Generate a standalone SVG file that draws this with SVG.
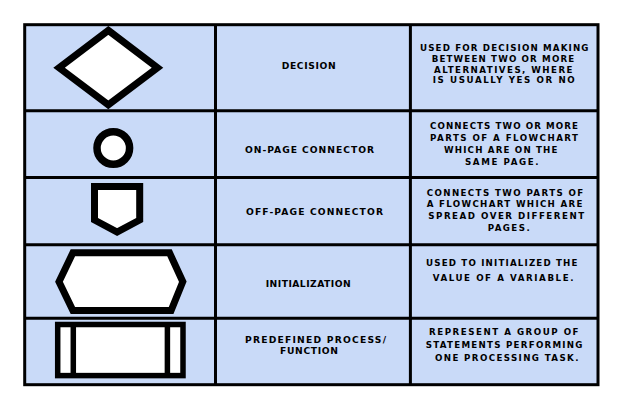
<svg xmlns="http://www.w3.org/2000/svg" width="622" height="410" viewBox="0 0 622 410">
<style>
.cell{fill:#C9DAF8;}
.grid{stroke:#000;stroke-width:3;fill:none;}
.shape{fill:#fff;stroke:#000;stroke-linejoin:miter;}
.name{font-family:"DejaVu Sans","Liberation Sans",sans-serif;font-weight:bold;font-size:9.2px;fill:#000;}
.desc{font-family:"DejaVu Sans","Liberation Sans",sans-serif;font-weight:bold;font-size:8.7px;fill:#000;}
</style>
<rect x="0" y="0" width="622" height="410" fill="#fff"/>
<rect class="cell" x="24.7" y="24.7" width="573.3" height="360"/>
<g id="row-decision">
<path class="shape" stroke-width="7" d="M108.3,30.4 L157.5,67.7 L108.3,104.9 L59.1,67.7 Z"/>
<text class="name" x="281.7" y="69.3" textLength="54" lengthAdjust="spacing">DECISION</text>
<text class="desc" x="420" y="50.5" textLength="168.5" lengthAdjust="spacing">USED FOR DECISION MAKING</text>
<text class="desc" x="431.7" y="61.5" textLength="142.5" lengthAdjust="spacing">BETWEEN TWO OR MORE</text>
<text class="desc" x="434" y="72.5" textLength="138.5" lengthAdjust="spacing">ALTERNATIVES, WHERE</text>
<text class="desc" x="432.7" y="82.8" textLength="142" lengthAdjust="spacing">IS USUALLY YES OR NO</text>
</g>
<g id="row-on-page-connector">
<circle class="shape" stroke-width="7.5" cx="113.3" cy="148" r="16.3"/>
<text class="name" x="245" y="153.3" textLength="129" lengthAdjust="spacing">ON-PAGE CONNECTOR</text>
<text class="desc" x="430" y="128.7" textLength="148" lengthAdjust="spacing">CONNECTS TWO OR MORE</text>
<text class="desc" x="430" y="140.7" textLength="148" lengthAdjust="spacing">PARTS OF A FLOWCHART</text>
<text class="desc" x="444" y="152.7" textLength="113.5" lengthAdjust="spacing">WHICH ARE ON THE</text>
<text class="desc" x="465" y="164.7" textLength="73.5" lengthAdjust="spacing">SAME PAGE.</text>
</g>
<g id="row-off-page-connector">
<path class="shape" stroke-width="7" d="M94.5,186.5 H139.7 V220 L117.1,232 L94.5,220 Z"/>
<text class="name" x="246" y="215" textLength="137" lengthAdjust="spacing">OFF-PAGE CONNECTOR</text>
<text class="desc" x="426.7" y="195.7" textLength="156.5" lengthAdjust="spacing">CONNECTS TWO PARTS OF</text>
<text class="desc" x="426.7" y="207.3" textLength="155.8" lengthAdjust="spacing">A FLOWCHART WHICH ARE</text>
<text class="desc" x="428.3" y="219" textLength="155.8" lengthAdjust="spacing">SPREAD OVER DIFFERENT</text>
<text class="desc" x="487.7" y="230.5" textLength="42" lengthAdjust="spacing">PAGES.</text>
</g>
<g id="row-initialization">
<path class="shape" stroke-width="7" d="M72.9,252.8 L169.5,252.8 L182.8,281.7 L171.1,310.5 L72.9,310.5 L59,281.7 Z"/>
<text class="name" x="265.7" y="286.7" textLength="85" lengthAdjust="spacing">INITIALIZATION</text>
<text class="desc" x="426" y="265.8" textLength="151.5" lengthAdjust="spacing">USED TO INITIALIZED THE</text>
<text class="desc" x="432.7" y="281" textLength="140.8" lengthAdjust="spacing">VALUE OF A VARIABLE.</text>
</g>
<g id="row-predefined-process">
<rect class="shape" stroke-width="5.5" x="57.7" y="324.5" width="125.3" height="51.1"/>
<path fill="none" stroke="#000" stroke-width="5.5" d="M73.3,324.5 V375.6 M167.4,324.5 V375.6"/>
<text class="name" x="245" y="343.3" textLength="141" lengthAdjust="spacing">PREDEFINED PROCESS/</text>
<text class="name" x="280" y="354" textLength="58" lengthAdjust="spacing">FUNCTION</text>
<text class="desc" x="429" y="334.5" textLength="149.5" lengthAdjust="spacing">REPRESENT A GROUP OF</text>
<text class="desc" x="425.7" y="348" textLength="156.8" lengthAdjust="spacing">STATEMENTS PERFORMING</text>
<text class="desc" x="435" y="361" textLength="143.5" lengthAdjust="spacing">ONE PROCESSING TASK.</text>
</g>
<g id="table-grid">
<rect class="grid" x="24.7" y="24.7" width="573.3" height="360"/>
<path class="grid" d="M215.5,24.7 V384.7 M410.4,24.7 V384.7 M24.7,110.7 H598 M24.7,177.5 H598 M24.7,244.7 H598 M24.7,318.3 H598"/>
</g>
</svg>
